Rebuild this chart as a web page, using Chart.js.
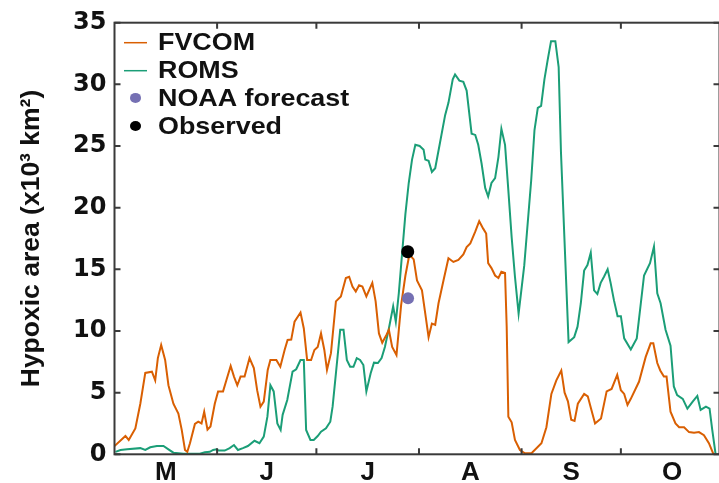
<!DOCTYPE html>
<html><head><meta charset="utf-8">
<script src="https://cdn.jsdelivr.net/npm/chart.js@4.4.1/dist/chart.umd.min.js"></script>
<style>html,body{margin:0;padding:0;background:#fff;overflow:hidden;width:719px;height:483px}canvas{display:block}</style>
</head><body><canvas id="c" width="726" height="483"></canvas>
<script>
// Days counted from May 1 (day 0)
const monthLabels = ['M','J','J','A','S','O'];
const monthMidDays = [15.5, 46, 76.5, 107.5, 138, 168.5];
const monthStartDays = [31, 61, 92, 123, 153];
const yTickValues = [0, 5, 10, 15, 20, 25, 30, 35];

const fvcomDays = [0,3.3,4.3,6.3,7.8,9.3,11.3,12.3,13.1,14.1,15.3,16.3,17.8,19.3,20.3,21.3,22.0,22.8,24.3,25.3,26.3,27.1,28.1,29.0,30.3,31.3,32.8,33.8,35.1,36.1,37.1,38.1,39.3,40.8,42.1,43.1,44.1,45.1,46.3,47.1,48.9,50.1,51.4,52.3,53.4,54.4,56.2,57.2,58.2,59.4,60.4,61.4,62.4,63.4,64.2,65.4,66.9,68.4,69.9,70.9,71.9,72.9,73.9,74.9,76.1,77.9,78.9,79.9,80.9,82.2,82.9,83.9,85.2,86.6,87.9,89.1,90.4,91.4,92.9,93.9,94.9,95.9,96.9,97.9,99.4,100.9,102.4,103.9,105.4,106.4,107.5,109.0,110.2,111.4,112.3,112.9,113.9,115.0,116.0,116.9,118.0,118.5,119.0,120.0,121.0,122.5,124.0,126.0,129.0,130.5,132.0,133.5,135.0,136.0,137.0,138.0,139.0,140.0,141.9,143.0,144.0,145.2,147.0,148.7,150.2,151.9,153.0,154.0,155.0,156.0,158.5,160.5,162.0,162.8,164.0,164.9,166.0,166.8,168.0,169.5,170.6,172.1,173.6,175.1,176.6,178.1,179.6,181.0];
const fvcomVals = [0.67,1.49,1.16,2.1,4.1,6.6,6.7,6.0,7.8,8.87,7.65,5.6,4.1,3.3,2.0,0.35,0.2,0.9,2.46,2.65,2.5,3.45,2.0,2.25,4.1,5.1,5.1,6.0,7.16,6.3,5.6,6.3,6.3,7.8,7.0,5.2,3.86,4.27,6.84,7.65,7.65,7.1,8.46,9.27,9.3,10.75,11.5,10.2,7.65,7.65,8.46,8.7,9.8,8.46,6.84,8.2,12.4,12.8,14.3,14.4,13.6,13.2,13.7,13.6,12.8,13.9,12.4,9.8,9.05,9.7,10.1,8.7,8.05,12.1,14.5,16.2,15.8,14.1,13.3,11.4,9.5,10.6,10.5,12.25,14.1,15.9,15.6,15.76,16.2,16.8,17.1,18.05,18.9,18.3,17.9,15.5,15.1,14.5,14.3,14.8,14.7,10.35,3.05,2.6,1.16,0.35,0.08,0.08,0.9,2.2,4.9,6.0,6.8,5.0,4.3,2.8,2.7,4.1,4.9,4.7,3.7,2.5,2.9,5.1,5.3,6.45,5.2,4.9,4.0,4.5,5.9,7.9,9.0,9.0,7.4,6.8,6.3,6.3,3.45,2.5,2.2,2.2,1.8,1.75,1.8,1.55,0.9,0.0];

const romsDays = [0.3,1.8,3.8,7.8,9.3,10.8,12.8,14.8,16.3,17.8,20.8,25.8,27.3,28.8,29.8,30.8,31.5,33.3,34.8,36.1,37.3,38.8,40.3,42.3,43.8,45.1,46.2,47.1,48.1,49.2,50.2,50.8,52.2,53.8,54.9,56.2,57.2,57.9,59.2,60.2,61.4,62.4,63.9,65.2,65.9,66.9,68.2,69.2,70.2,71.2,72.2,73.2,74.2,75.2,76.1,77.4,78.4,79.6,80.7,81.7,82.9,84.2,85.0,85.9,86.9,87.9,88.9,89.9,90.9,92.2,93.4,93.9,94.9,95.9,96.9,98.4,99.9,100.9,102.2,102.9,104.2,105.4,106.4,107.9,109.0,109.9,110.9,112.0,112.9,113.9,115.0,116.0,116.9,118.0,119.0,120.0,121.0,122.1,123.8,125.9,126.9,127.9,128.9,129.9,130.9,131.9,133.2,134.2,134.9,137.2,138.9,139.9,140.9,141.9,142.9,143.9,144.9,145.9,146.9,147.9,149.0,149.9,150.9,152.0,153.0,154.0,156.0,157.8,160.0,161.8,163.0,164.0,165.0,166.5,168.0,169.0,170.0,171.7,173.1,174.7,176.1,177.1,178.7,179.8,180.6,181.6];
const romsVals = [0.2,0.35,0.4,0.5,0.35,0.57,0.67,0.67,0.4,0.13,0.05,0.05,0.16,0.2,0.35,0.4,0.3,0.3,0.5,0.75,0.35,0.5,0.67,1.1,0.9,1.43,3.05,5.6,5.1,2.5,1.97,3.2,4.4,6.7,6.9,7.65,7.65,1.97,1.16,1.16,1.48,1.83,2.1,2.64,3.86,6.57,10.1,10.1,7.65,7.1,7.1,7.8,7.65,7.24,5.1,6.57,7.43,7.4,7.8,8.7,10.2,12.0,10.75,13.05,16.3,19.5,22.0,23.9,25.1,25.0,24.7,23.9,23.8,22.9,23.2,25.35,27.5,28.5,30.4,30.8,30.3,30.2,29.5,26.0,25.9,25.1,23.6,21.6,20.9,22.0,22.4,24.1,26.4,25.1,21.4,17.6,14.4,11.4,15.3,22.2,26.3,28.1,28.25,30.4,32.0,33.5,33.5,31.4,24.5,9.1,9.5,10.35,12.25,14.9,15.35,16.35,13.3,13.0,13.9,14.4,15.0,13.9,12.5,11.2,11.2,9.4,8.5,9.4,14.5,15.5,16.85,13.05,12.25,10.1,8.8,5.5,4.8,4.5,3.7,4.27,4.73,3.6,3.86,3.7,2.0,0.05];

const noaaDays = [88.7];
const noaaVals = [12.65];
const obsDays = [88.6];
const obsVals = [16.43];

const zip = (xs, ys) => xs.map((x, i) => ({x: x, y: ys[i]}));

const AXIS_COLOR = '#3a3a3a';

const framePlugin = {
  id: 'frame',
  afterDraw(chart) {
    const {ctx, chartArea: a, scales: {x, y}} = chart;
    ctx.save();
    ctx.strokeStyle = AXIS_COLOR;
    ctx.lineWidth = 2;
    ctx.strokeRect(a.left, a.top, a.right - a.left, a.bottom - a.top);
    ctx.beginPath();
    monthStartDays.forEach(d => {
      const px = x.getPixelForValue(d);
      ctx.moveTo(px, a.bottom); ctx.lineTo(px, a.bottom - 6);
      ctx.moveTo(px, a.top); ctx.lineTo(px, a.top + 6);
    });
    yTickValues.forEach(v => {
      const py = y.getPixelForValue(v);
      ctx.moveTo(a.left, py); ctx.lineTo(a.left + 6, py);
      ctx.moveTo(a.right, py); ctx.lineTo(a.right - 6, py);
    });
    ctx.stroke();

    // legend
    const ds = chart.data.datasets;
    const rows = [42.7, 70.7, 97.9, 126];
    ctx.font = 'bold 24px "Liberation Sans", Arial, sans-serif';
    ctx.textBaseline = 'middle';
    ctx.textAlign = 'left';
    ds.forEach((d, i) => {
      const ly = rows[i];
      if (d.showLine === false) {
        ctx.fillStyle = d.backgroundColor;
        ctx.beginPath();
        ctx.ellipse(135.5, ly, 5.5, 5, 0, 0, Math.PI * 2);
        ctx.fill();
      } else {
        ctx.strokeStyle = d.borderColor;
        ctx.lineWidth = 1.5;
        ctx.beginPath();
        ctx.moveTo(124, ly); ctx.lineTo(147, ly);
        ctx.stroke();
      }
      ctx.save();
      ctx.translate(158, ly + 1);
      ctx.scale(1.12, 1);
      ctx.fillStyle = '#111';
      ctx.fillText(d.label, 0, 0);
      ctx.restore();
    });
    ctx.restore();
  }
};

new Chart(document.getElementById('c'), {
  type: 'line',
  data: {
    datasets: [
      {label: 'FVCOM', data: zip(fvcomDays, fvcomVals), borderColor: '#d95f02', backgroundColor: '#d95f02', borderWidth: 2, pointRadius: 0, tension: 0, order: 2},
      {label: 'ROMS', data: zip(romsDays, romsVals), borderColor: '#1b9e77', backgroundColor: '#1b9e77', borderWidth: 2, pointRadius: 0, tension: 0, order: 3},
      {label: 'NOAA forecast', data: zip(noaaDays, noaaVals), showLine: false, borderColor: '#7570b3', backgroundColor: '#7570b3', pointRadius: 6, pointBorderWidth: 0, order: 1},
      {label: 'Observed', data: zip(obsDays, obsVals), showLine: false, borderColor: '#000', backgroundColor: '#000', pointRadius: 6.5, pointBorderWidth: 0, order: 0}
    ]
  },
  options: {
    responsive: false,
    animation: false,
    devicePixelRatio: 1,
    layout: {padding: {left: 0, top: 22.7, right: 4, bottom: 0}},
    plugins: {legend: {display: false}, tooltip: {enabled: false}},
    scales: {
      x: {
        type: 'linear', min: 0, max: 182.8,
        grid: {display: false, drawTicks: false},
        border: {display: false},
        afterBuildTicks: s => { s.ticks = monthMidDays.map(v => ({value: v})); },
        afterFit: s => { s.height = 28.7; },
        ticks: {
          autoSkip: false, maxRotation: 0, padding: 3, color: '#111',
          font: {family: '"Liberation Sans", Arial, sans-serif', size: 26, weight: 'bold'},
          callback: (v, i) => monthLabels[i]
        }
      },
      y: {
        min: 0, max: 35,
        grid: {display: false, drawTicks: false},
        border: {display: false},
        afterBuildTicks: s => { s.ticks = yTickValues.map(v => ({value: v})); },
        afterFit: s => { s.width = 114.5; },
        ticks: {
          padding: 8, color: '#111',
          font: {family: '"DejaVu Sans", sans-serif', size: 24, weight: 'bold'}
        },
        title: {
          display: true, text: 'Hypoxic area (x10³ km²)', color: '#111',
          padding: {top: 16, bottom: 0},
          font: {family: '"Liberation Sans", Arial, sans-serif', size: 26.5, weight: 'bold'}
        }
      }
    }
  },
  plugins: [framePlugin]
});
</script></body></html>
